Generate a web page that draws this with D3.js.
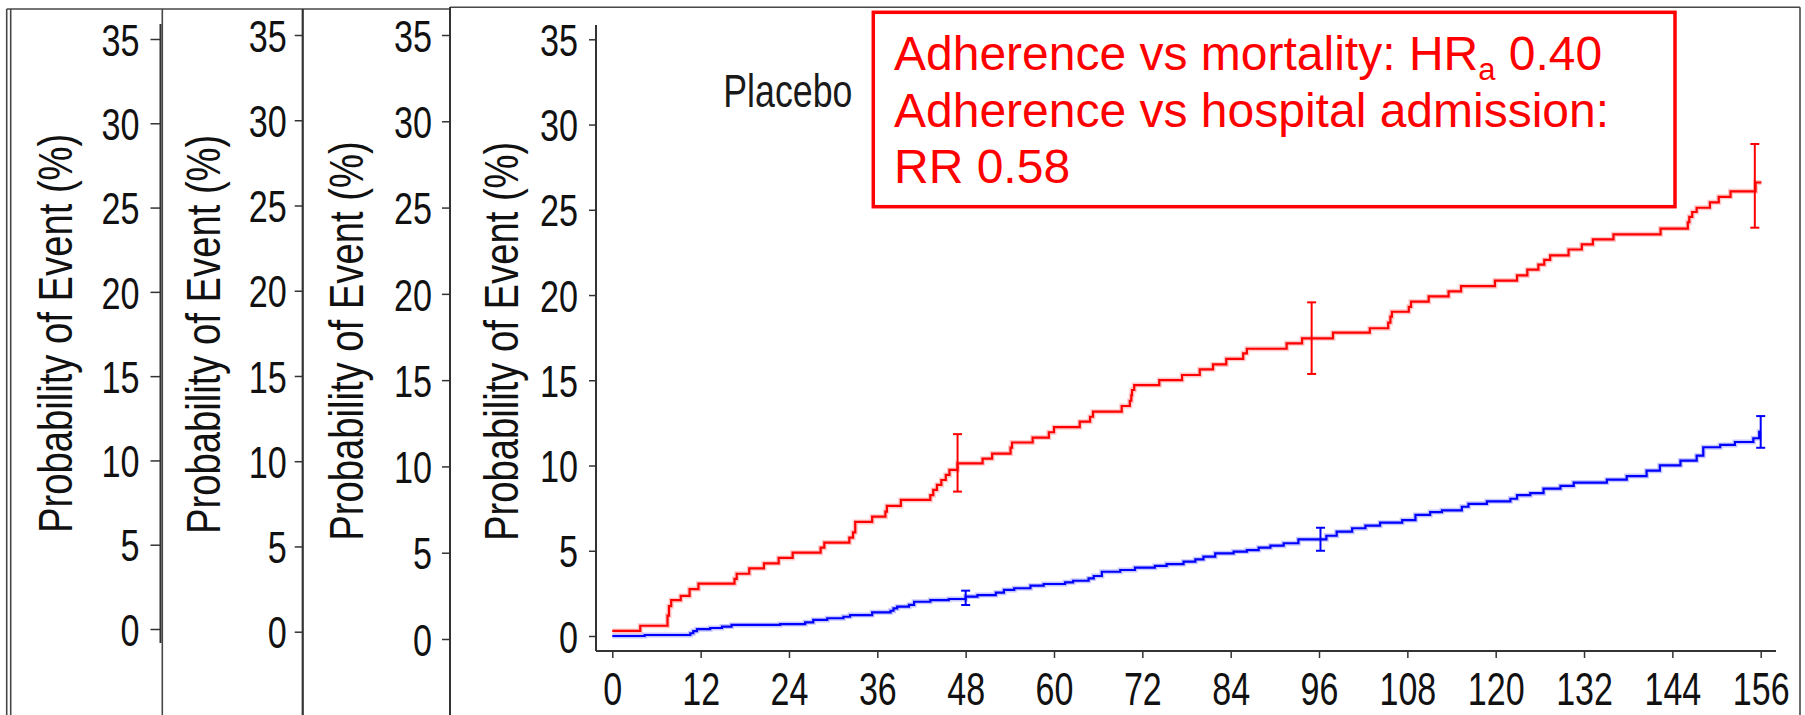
<!DOCTYPE html>
<html>
<head>
<meta charset="utf-8">
<script src="https://cdn.jsdelivr.net/npm/d3@7"></script>
<style>
html, body { margin: 0; padding: 0; background: #fff; }
svg { display: block; }
</style>
</head>
<body>
<svg id="chart" width="1805" height="715"></svg>
<script>
// ---- data ----
var yTicks = [0, 5, 10, 15, 20, 25, 30, 35];
var monthTicks = [0, 12, 24, 36, 48, 60, 72, 84, 96, 108, 120, 132, 144, 156];
var yTitle = "Probability of Event (%)";
var groupLabel = "Placebo";
var noteLines = ["Adherence vs mortality: HR", "Adherence vs hospital admission:", "RR 0.58"];
var noteSub = "a";
var noteTail = " 0.40";

// poor adherence (red) – step times (months) and cumulative event probability (%)
var poorMonths = [0, 3.8, 7.5, 7.7, 8.0, 9.3, 10.5, 11.7, 16.6, 16.9, 18.6, 20.6, 22.6, 24.5, 28.3, 28.8,
  32.2, 32.7, 33.0, 35.3, 37.1, 37.3, 39.2, 43.2, 43.6, 44.1, 44.7, 45.3, 45.8, 46.9, 50.3, 51.6,
  54.1, 54.3, 57.1, 59.3, 60.0, 63.5, 64.9, 65.3, 69.2, 70.3, 70.5, 70.6, 70.9, 74.3, 77.4, 79.8,
  81.6, 83.4, 85.7, 86.2, 91.6, 93.7, 97.9, 102.9, 105.4, 105.7, 105.9, 108.2, 108.5, 110.9, 113.6,
  115.3, 119.9, 122.9, 124.3, 125.8, 126.6, 127.4, 129.9, 131.7, 133.2, 136.0, 142.4, 146.1, 146.3,
  146.7, 147.3, 149.1, 150.3, 151.9, 155.3, 156.1];
var poorRisk = [0.3, 0.6, 1.2, 1.75, 2.1, 2.35, 2.75, 3.07, 3.35, 3.65, 3.97, 4.26, 4.58, 4.89, 5.18, 5.48,
  5.77, 6.08, 6.69, 7.0, 7.3, 7.63, 7.98, 8.26, 8.57, 8.86, 9.15, 9.45, 9.74, 10.13, 10.4, 10.7,
  11.05, 11.35, 11.64, 11.95, 12.25, 12.57, 12.86, 13.16, 13.49, 13.8, 14.12, 14.43, 14.72, 15.01, 15.31, 15.64,
  15.93, 16.26, 16.58, 16.85, 17.17, 17.46, 17.79, 18.05, 18.38, 18.73, 19.02, 19.31, 19.61, 19.92, 20.22,
  20.52, 20.85, 21.15, 21.49, 21.78, 22.06, 22.33, 22.67, 22.97, 23.26, 23.56, 23.9, 24.27, 24.59,
  24.87, 25.12, 25.44, 25.76, 26.08, 26.6, 26.6];
var poorCiMonths = [46.9, 95.0, 155.2];
var poorCiLow = [8.47, 15.37, 23.95];
var poorCiHigh = [11.84, 19.57, 28.86];

// good adherence (blue)
var goodMonths = [0, 4.4, 10.6, 11.0, 11.5, 13.3, 14.9, 16.2, 22.8, 26.2, 27.3, 29.2, 31.4, 32.3, 35.3,
  37.8, 38.2, 38.7, 40.3, 41.0, 43.2, 45.7, 48.0, 49.6, 52.1, 53.2, 54.6, 56.8, 58.6, 61.5, 62.6,
  64.7, 65.4, 66.5, 69.0, 71.0, 73.7, 75.3, 77.6, 79.2, 80.3, 81.9, 84.4, 86.2, 87.8, 89.4, 91.2,
  93.2, 97.0, 98.4, 100.5, 102.3, 104.3, 107.3, 109.1, 111.1, 112.7, 115.4, 116.3, 118.8, 122.0,
  122.9, 124.7, 126.5, 128.8, 130.6, 135.1, 137.8, 140.5, 142.3, 145.1, 147.3, 148.2, 150.5, 152.5,
  155.0, 155.8, 156.0];
var goodRisk = [0, 0.06, 0.16, 0.29, 0.4, 0.47, 0.55, 0.65, 0.7, 0.8, 0.94, 1.04, 1.13, 1.23, 1.39,
  1.48, 1.62, 1.72, 1.82, 2.01, 2.11, 2.17, 2.31, 2.4, 2.54, 2.7, 2.8, 2.95, 3.05, 3.15, 3.24,
  3.38, 3.52, 3.77, 3.87, 4.01, 4.11, 4.22, 4.36, 4.5, 4.65, 4.85, 4.95, 5.04, 5.18, 5.3, 5.44,
  5.67, 5.88, 6.12, 6.32, 6.47, 6.65, 6.8, 7.1, 7.27, 7.37, 7.58, 7.75, 7.9, 8.05,
  8.26, 8.38, 8.64, 8.8, 9.0, 9.17, 9.38, 9.7, 10.01, 10.29, 10.58, 11.07, 11.21, 11.38,
  11.6, 11.98, 11.98];
var goodCiMonths = [48.0, 96.2, 156.0];
var goodCiLow = [1.82, 5.0, 11.04];
var goodCiHigh = [2.66, 6.35, 12.9];

// ---- drawing ----
var svg = d3.select("#chart");
var FONT = "'Liberation Sans', Arial, Helvetica, sans-serif";
var SQUEEZE = 0.76;   // source uses a narrow Helvetica
var ink = "#111", frame = "#474747";

svg.append("rect").attr("width", 1805).attr("height", 715).attr("fill", "#fff");

// outer frame and panel separators (the picture is four overlapping crops)
var frameLines = [
  [6.7, 9, 6.7, 715], [10.7, 9, 10.7, 715], [6.7, 9, 450, 9],
  [162.3, 9, 162.3, 715], [302.7, 9, 302.7, 715], [450, 7.3, 450, 715],
  [450, 7.3, 1800, 7.3], [1800, 7.3, 1800, 715]
];
svg.selectAll("line.frame").data(frameLines).enter().append("line")
  .attr("class", "frame")
  .attr("x1", function (d) { return d[0]; }).attr("y1", function (d) { return d[1]; })
  .attr("x2", function (d) { return d[2]; }).attr("y2", function (d) { return d[3]; })
  .attr("stroke", frame).attr("stroke-width", 1.6);

var panels = [
  { ax: 160.5, y0: 629, y35: 39, tick: 10, gap: 21, top: 24, bottom: 643, tx: 71.7, ty: 533 },
  { ax: 302.7, y0: 631.7, y35: 35, tick: 8, gap: 16, top: 9, bottom: 715, tx: 220, ty: 534 },
  { ax: 450, y0: 639, y35: 35, tick: 8, gap: 18, top: 7, bottom: 715, tx: 363.3, ty: 540.7 },
  { ax: 596, y0: 636, y35: 39.3, tick: 7, gap: 18, top: 25, bottom: 651, tx: 518, ty: 541 }
];

var yMain;
panels.forEach(function (p, i) {
  var y = d3.scaleLinear().domain([0, 35]).range([p.y0, p.y35]);
  if (i === 3) yMain = y;
  var g = svg.append("g").attr("transform", "translate(" + p.ax + ",0)")
    .call(d3.axisLeft(y).tickValues(yTicks).tickSize(p.tick).tickFormat(d3.format("d")));
  g.select(".domain").remove();
  g.selectAll(".tick line").attr("stroke", "#333").attr("stroke-width", 1.5);
  g.selectAll(".tick text")
    .attr("x", null).attr("dy", "0.36em")
    .attr("transform", "translate(" + (-p.gap) + ",0) scale(" + SQUEEZE + ",1)")
    .attr("font-family", FONT).attr("font-size", 45).attr("fill", ink);
  svg.append("line").attr("x1", p.ax).attr("x2", p.ax).attr("y1", p.top).attr("y2", p.bottom)
    .attr("stroke", "#333").attr("stroke-width", 2);
  svg.append("text")
    .attr("transform", "translate(" + p.tx + "," + p.ty + ") rotate(-90) scale(0.78,1)")
    .attr("font-family", FONT).attr("font-size", 49).attr("fill", ink)
    .text(yTitle);
});

// main panel x axis
var x = d3.scaleLinear().domain([0, 156]).range([612.3, 1760.7]);
var gx = svg.append("g").attr("transform", "translate(0,651)")
  .call(d3.axisBottom(x).tickValues(monthTicks).tickSize(7));
gx.select(".domain").remove();
gx.selectAll(".tick line").attr("stroke", "#333").attr("stroke-width", 1.5);
gx.selectAll(".tick text")
  .attr("y", null).attr("dy", null)
  .attr("transform", "translate(0,54) scale(0.74,1)")
  .attr("font-family", FONT).attr("font-size", 46).attr("fill", ink);
svg.append("line").attr("x1", 596).attr("x2", 1776).attr("y1", 651).attr("y2", 651)
  .attr("stroke", "#333").attr("stroke-width", 2);

// curves
var step = d3.line().curve(d3.curveStepAfter)
  .x(function (d) { return x(d[0]); }).y(function (d) { return yMain(d[1]); });

function drawSeries(months, risk, ciM, ciLo, ciHi, color) {
  var pts = months.map(function (m, i) { return [m, risk[i]]; });
  svg.append("path").attr("d", step(pts)).attr("fill", "none")
    .attr("stroke", color).attr("stroke-opacity", 0.22).attr("stroke-width", 5);
  svg.append("path").attr("d", step(pts)).attr("fill", "none")
    .attr("stroke", color).attr("stroke-width", 2.2);
  var bars = svg.append("g").attr("stroke", color).attr("stroke-width", 2);
  ciM.forEach(function (m, i) {
    var cx = x(m);
    bars.append("line").attr("x1", cx).attr("x2", cx).attr("y1", yMain(ciLo[i])).attr("y2", yMain(ciHi[i]));
    [ciLo[i], ciHi[i]].forEach(function (v) {
      bars.append("line").attr("x1", cx - 4.5).attr("x2", cx + 4.5).attr("y1", yMain(v)).attr("y2", yMain(v));
    });
  });
}
drawSeries(poorMonths, poorRisk, poorCiMonths, poorCiLow, poorCiHigh, "#ff0000");
drawSeries(goodMonths, goodRisk, goodCiMonths, goodCiLow, goodCiHigh, "#0000ff");

// group label
svg.append("text")
  .attr("transform", "translate(723.3,106.7) scale(0.76,1)")
  .attr("font-family", FONT).attr("font-size", 47).attr("fill", "#1a1a1a")
  .text(groupLabel);

// annotation box
svg.append("rect").attr("x", 873.3).attr("y", 12.3).attr("width", 801.7).attr("height", 194.4)
  .attr("fill", "#fff").attr("stroke", "#ff0000").attr("stroke-width", 3.5);
var note = svg.append("g").attr("font-family", FONT).attr("font-size", 48).attr("fill", "#ff0000");
var l1 = note.append("text").attr("x", 894).attr("y", 70);
l1.append("tspan").text(noteLines[0]);
l1.append("tspan").attr("font-size", 31).attr("dy", 10).text(noteSub);
l1.append("tspan").attr("dy", -10).text(noteTail);
note.append("text").attr("x", 894).attr("y", 126.7).text(noteLines[1]);
note.append("text").attr("x", 894).attr("y", 183.3).text(noteLines[2]);
</script>
</body>
</html>
